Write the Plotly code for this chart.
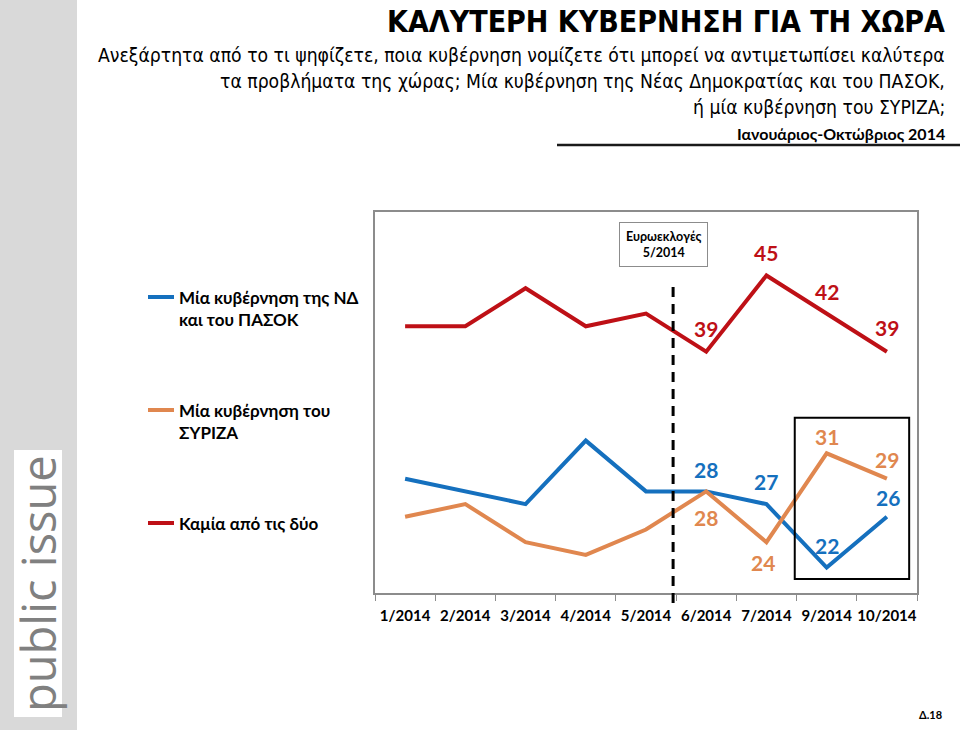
import plotly.graph_objects as go

months = ["1/2014", "2/2014", "3/2014", "4/2014", "5/2014", "6/2014", "7/2014", "9/2014", "10/2014"]
nd_pasok = [29, 28, 27, 32, 28, 28, 27, 22, 26]
syriza = [26, 27, 24, 23, 25, 28, 24, 31, 29]
none_of_two = [41, 41, 44, 41, 42, 39, 45, 42, 39]

series_names = ["Μία κυβέρνηση της ΝΔ<br>και του ΠΑΣΟΚ", "Μία κυβέρνηση του<br>ΣΥΡΙΖΑ", "Καμία από τις δύο"]
title_text = "ΚΑΛΥΤΕΡΗ ΚΥΒΕΡΝΗΣΗ ΓΙΑ ΤΗ ΧΩΡΑ"
subtitle_lines = [
    "Ανεξάρτητα από το τι ψηφίζετε, ποια κυβέρνηση νομίζετε ότι μπορεί να αντιμετωπίσει καλύτερα",
    "τα προβλήματα της χώρας; Μία κυβέρνηση της Νέας Δημοκρατίας και του ΠΑΣΟΚ,",
    "ή μία κυβέρνηση του ΣΥΡΙΖΑ;",
]
period_text = "Ιανουάριος-Οκτώβριος 2014"
event_text = "Ευρωεκλογές<br>5/2014"

BLUE = "#1570BE"
ORANGE = "#E0874F"
RED = "#BE1016"
LBL = "Lato, 'Noto Sans', sans-serif"

W, H = 960, 730
L, R, T, B = 375, 917, 212, 593


def px(x):
    return (x - L) / (R - L)


def py(y):
    return (B - y) / (B - T)


fig = go.Figure()
for vals, color, name in [(none_of_two, RED, series_names[2]), (nd_pasok, BLUE, series_names[0]), (syriza, ORANGE, series_names[1])]:
    fig.add_trace(go.Scatter(x=months, y=vals, mode="lines", line=dict(color=color, width=4),
                             name=name, showlegend=False, hoverinfo="skip"))

shapes = []
annotations = []

# grey strip and logo
shapes.append(dict(type="rect", xref="paper", yref="paper", x0=px(0), x1=px(77), y0=py(730), y1=py(0),
                   fillcolor="#D9D9D9", line=dict(width=0), layer="below"))
shapes.append(dict(type="rect", xref="paper", yref="paper", x0=px(14), x1=px(62), y0=py(717), y1=py(450),
                   fillcolor="white", line=dict(width=0), layer="below"))
annotations.append(dict(xref="paper", yref="paper", x=px(38), y=py(584), text="public issue", textangle=-90,
                        showarrow=False, font=dict(family="'Open Sans', sans-serif", size=47, color="#808080"),
                        xanchor="center", yanchor="middle"))

# title
annotations.append(dict(xref="paper", yref="paper", x=px(947), y=py(21), text="<b>" + title_text + "</b>",
                        showarrow=False, xanchor="right", yanchor="middle",
                        font=dict(family="'DejaVu Sans Condensed', sans-serif", size=30, color="black")))
for i, line in enumerate(subtitle_lines):
    annotations.append(dict(xref="paper", yref="paper", x=px(947), y=py(55 + 26 * i), text=line,
                            showarrow=False, xanchor="right", yanchor="middle",
                            font=dict(family="'DejaVu Sans Condensed', sans-serif", size=19.2, color="black")))
annotations.append(dict(xref="paper", yref="paper", x=px(947), y=py(134), text="<b>" + period_text + "</b>",
                        showarrow=False, xanchor="right", yanchor="middle",
                        font=dict(family=LBL, size=16, color="black")))
shapes.append(dict(type="line", xref="paper", yref="paper", x0=px(557), x1=px(960), y0=py(145), y1=py(145),
                   line=dict(color="#1a1a1a", width=2.5)))

# legend (manual)
for (ly, color, name) in [(297, BLUE, series_names[0]), (410, ORANGE, series_names[1]), (523, RED, series_names[2])]:
    shapes.append(dict(type="line", xref="paper", yref="paper", x0=px(148), x1=px(174), y0=py(ly), y1=py(ly),
                       line=dict(color=color, width=4)))
    annotations.append(dict(xref="paper", yref="paper", x=px(177), y=py(ly - 12), text="<b>" + name + "</b>",
                            showarrow=False, xanchor="left", yanchor="top", align="left",
                            font=dict(family=LBL, size=17, color="black")))

# event marker
shapes.append(dict(type="line", xref="x", yref="paper", x0=4.45, x1=4.45, y0=py(603), y1=py(281),
                   line=dict(color="black", width=3, dash="10px,7px")))
annotations.append(dict(xref="x", yref="paper", x=4.45, y=py(244), xshift=-10, text="<b>" + event_text + "</b>",
                        showarrow=False, xanchor="center", yanchor="middle", bgcolor="white",
                        bordercolor="#8C8C8C", borderwidth=1, borderpad=6,
                        font=dict(family=LBL, size=12.5, color="black")))

# highlight box
shapes.append(dict(type="rect", xref="x", yref="y", x0=6.47, x1=8.37, y0=21.1, y1=33.8,
                   line=dict(color="black", width=2)))

# data labels: (series, color, index, dx, dy)
label_offsets = [
    (none_of_two, RED, 5, 0, 23), (none_of_two, RED, 6, 0, 23), (none_of_two, RED, 7, 0, 22), (none_of_two, RED, 8, 0, 24),
    (nd_pasok, BLUE, 5, 0, 22), (nd_pasok, BLUE, 6, 0, 23), (nd_pasok, BLUE, 7, 0, 22), (nd_pasok, BLUE, 8, 1, 19),
    (syriza, ORANGE, 5, 0, -26), (syriza, ORANGE, 6, -3, -20), (syriza, ORANGE, 7, 0, 17), (syriza, ORANGE, 8, 0, 19),
]
for vals, color, idx, dx, dy in label_offsets:
    annotations.append(dict(xref="x", yref="y", x=months[idx], y=vals[idx], text="<b>%d</b>" % vals[idx],
                            showarrow=False, xshift=dx, yshift=dy, xanchor="center", yanchor="middle",
                            font=dict(family=LBL, size=21, color=color)))

annotations.append(dict(xref="paper", yref="paper", x=px(944), y=py(714), text="<b>Δ.18</b>", showarrow=False,
                        xanchor="right", yanchor="middle", font=dict(family=LBL, size=11, color="black")))

fig.update_layout(
    width=W, height=H, margin=dict(l=L, r=W - R, t=T, b=H - B, pad=0),
    paper_bgcolor="white", plot_bgcolor="white", showlegend=False,
    shapes=shapes, annotations=annotations,
    xaxis=dict(type="category", range=[-0.5, 8.5], showgrid=False, showline=True, linecolor="#8C8C8C", linewidth=2,
               mirror=True, ticks="outside", tickson="boundaries", ticklen=6, tickcolor="#8C8C8C", tickwidth=1,
               tickangle=0, ticklabelstandoff=8, tickfont=dict(family=LBL, size=15, color="black"), zeroline=False,
               tickvals=months, ticktext=["<b>%s</b>" % m for m in months]),
    yaxis=dict(range=[20, 50], showgrid=False, showline=True, linecolor="#8C8C8C", linewidth=2, mirror=True,
               showticklabels=False, ticks="", zeroline=False),
)

fig.write_html("out.html", config={"displayModeBar": False},
               post_script="document.body.style.margin='0px';document.body.style.overflow='hidden';")
